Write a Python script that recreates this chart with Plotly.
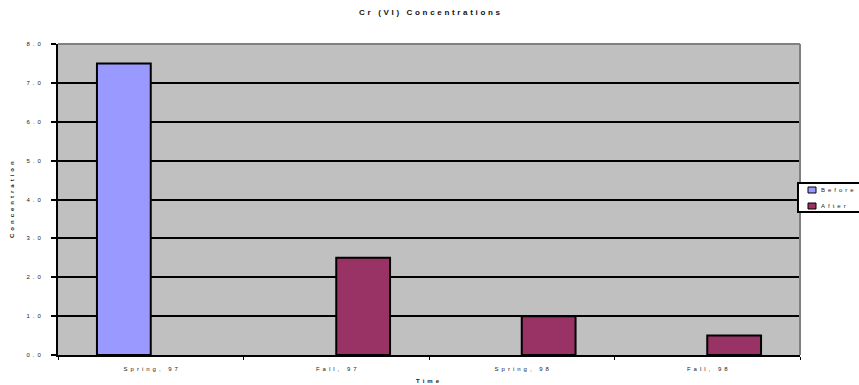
import plotly.graph_objects as go

categories = ["Spring, 97", "Fall, 97", "Spring, 98", "Fall, 98"]
before = [7.5, None, None, None]
after = [None, 2.5, 1.0, 0.5]
y_ticks = [0, 1, 2, 3, 4, 5, 6, 7, 8]
series_names = ["Before", "After"]
series_colors = ["#9999FF", "#993366"]

SP_SMALL = "\u2002"   # en space for small text
SP_TITLE = "\u2004"   # three-per-em space for title


def spaced(s, sep=SP_SMALL):
    return sep.join(list(s))


cat_labels = [spaced(c) for c in categories]
FONT = "Liberation Sans, Arial, sans-serif"

fig = go.Figure()
fig.add_trace(go.Bar(name=series_names[0], x=cat_labels, y=before,
                     marker=dict(color=series_colors[0], line=dict(color="black", width=2))))
fig.add_trace(go.Bar(name=series_names[1], x=cat_labels, y=after,
                     marker=dict(color=series_colors[1], line=dict(color="black", width=2))))

fig.update_layout(
    width=859, height=385,
    margin=dict(l=58, r=59, t=44, b=30),
    paper_bgcolor="white",
    plot_bgcolor="#C0C0C0",
    barmode="group",
    bargap=0.42, bargroupgap=0,
    font=dict(family=FONT, size=6, color="#222"),
    title=dict(text="<b>" + spaced("Cr (VI) Concentrations", SP_TITLE) + "</b>",
               x=0.5, xanchor="center", y=1 - 12 / 385, yanchor="middle",
               font=dict(size=8, color="#111")),
    showlegend=False,
    xaxis=dict(
        type="category", tickson="boundaries",
        ticks="outside", ticklen=3, tickcolor="black", tickwidth=1,
        showline=True, linecolor="black", linewidth=2, mirror=False,
        showgrid=False, tickfont=dict(size=6), ticklabelstandoff=7,
    ),
    yaxis=dict(
        range=[0, 8], tickvals=y_ticks,
        ticktext=[spaced(f"{v:.1f}") for v in y_ticks],
        ticks="outside", ticklen=5, tickcolor="black", tickwidth=2,
        showline=True, linecolor="black", linewidth=2,
        showgrid=True, gridcolor="black", gridwidth=2,
        zeroline=False, tickfont=dict(size=6), ticklabelstandoff=9,
    ),
)


def px(x):
    return (x - 58) / 742


def py(y):
    return (355 - y) / 311


# axis titles as annotations
fig.add_annotation(text="<b>" + spaced("Time") + "</b>", xref="paper", yref="paper",
                   x=px(428), y=py(381), xanchor="center", yanchor="middle",
                   showarrow=False, font=dict(size=6, color="#222"))
fig.add_annotation(text="<b>" + spaced("Concentration") + "</b>", xref="paper", yref="paper",
                   x=px(12), y=py(200), xanchor="center", yanchor="middle",
                   textangle=-90, showarrow=False, font=dict(size=6, color="#222"))

# gray top/right plot border
fig.add_shape(type="line", xref="paper", yref="paper", x0=0, x1=1, y0=1, y1=1,
              line=dict(color="#808080", width=2))
fig.add_shape(type="line", xref="paper", yref="paper", x0=1, x1=1, y0=0, y1=1,
              line=dict(color="#808080", width=2))

# legend drawn manually
fig.add_shape(type="rect", xref="paper", yref="paper",
              x0=px(798), x1=px(870), y0=py(212), y1=py(183),
              line=dict(color="black", width=2), fillcolor="white", layer="above")
for i, (name, col) in enumerate(zip(series_names, series_colors)):
    yc = 190 + i * 16
    fig.add_shape(type="rect", xref="paper", yref="paper",
                  x0=px(808), x1=px(816), y0=py(yc + 3), y1=py(yc - 3),
                  line=dict(color="black", width=1), fillcolor=col, layer="above")
    fig.add_annotation(text=spaced(name), xref="paper", yref="paper",
                       x=px(819), y=py(yc), xanchor="left", yanchor="middle",
                       showarrow=False, font=dict(size=6, color="#222"))

fig.write_html("out.html")
